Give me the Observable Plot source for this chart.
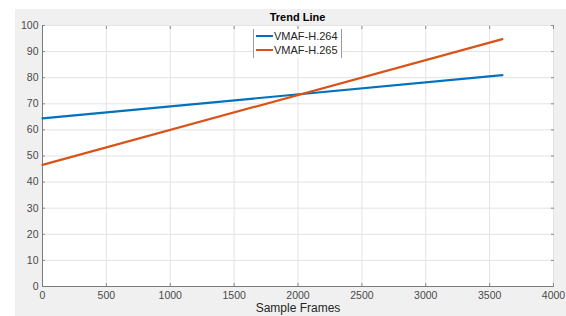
<!DOCTYPE html>
<html>
<head>
<meta charset="utf-8">
<script src="https://cdn.jsdelivr.net/npm/d3@7"></script>
<script src="https://cdn.jsdelivr.net/npm/@observablehq/plot@0.6"></script>
<style>
  html, body { margin: 0; padding: 0; background: #fff; }
  #wrap { position: relative; width: 566px; height: 316px; overflow: hidden; font-family: "Liberation Sans", Arial, sans-serif; }
  #bg { position: absolute; left: 15px; top: 9px; right: 0; bottom: 0; background: #f0f0f0; }
  #title { position: absolute; left: 42px; width: 511px; top: 9px; height: 16px; line-height: 16px; text-align: center; font-weight: bold; font-size: 11px; color: #000; }
  #chart { position: absolute; left: 0; top: 22px; }
  #legend { position: absolute; left: 253px; top: 29px; width: 87px; height: 29px; background: #fff; border-left: 1px solid #9a9a9a; border-right: 1px solid #9a9a9a; font-size: 11px; color: #262626; }
  .row { position: absolute; left: 2px; height: 13px; line-height: 13px; white-space: nowrap; }
  .sw { display: inline-block; width: 17px; height: 2px; vertical-align: middle; margin-right: 1px; position: relative; top: -1px; }
</style>
</head>
<body>
<div id="wrap">
  <div id="bg"></div>
  <div id="title"></div>
  <div id="chart"></div>
  <div id="legend"></div>
</div>
<script>
const titleText = "Trend Line";
const xLabel = "Sample Frames";
const frames = [0, 3600];
const h264 = [64.4, 81.0];
const h265 = [46.6, 94.8];
const seriesNames = ["VMAF-H.264", "VMAF-H.265"];
const seriesColors = ["#0072BD", "#D95319"];
const xTicks = [0, 500, 1000, 1500, 2000, 2500, 3000, 3500, 4000];
const yTicks = [0, 10, 20, 30, 40, 50, 60, 70, 80, 90, 100];

const rows = [];
frames.forEach((f, i) => {
  rows.push({series: seriesNames[0], frame: f, vmaf: h264[i]});
  rows.push({series: seriesNames[1], frame: f, vmaf: h265[i]});
});

document.getElementById("title").textContent = titleText;

const tickColor = "#8a8a8a";
const fmt = d3.format("d");
const chart = Plot.plot({
  width: 566,
  height: 294,
  marginLeft: 42,
  marginRight: 13,
  marginTop: 3,
  marginBottom: 30,
  style: {background: "transparent", fontFamily: "'Liberation Sans', Arial, sans-serif", fontSize: "10.5px", color: "#4a4a4a", overflow: "visible"},
  x: {domain: [0, 4000], label: null},
  y: {domain: [0, 100], label: null},
  color: {domain: seriesNames, range: seriesColors},
  marks: [
    Plot.frame({fill: "#fff", stroke: "none"}),
    Plot.gridX(xTicks, {stroke: "#e3e3e3", strokeOpacity: 1}),
    Plot.gridY(yTicks, {stroke: "#e3e3e3", strokeOpacity: 1}),
    Plot.axisX(xTicks, {anchor: "bottom", tickSize: 0, tickPadding: 5, tickFormat: fmt, fill: "#4a4a4a"}),
    Plot.axisY(yTicks, {anchor: "left", tickSize: 0, tickPadding: 4, tickFormat: fmt, fill: "#4a4a4a"}),
    Plot.axisX(xTicks, {anchor: "bottom", tickSize: -3, tickFormat: () => "", stroke: tickColor}),
    Plot.axisX(xTicks, {anchor: "top", tickSize: -3, tickFormat: () => "", stroke: tickColor}),
    Plot.axisY(yTicks, {anchor: "left", tickSize: -3, tickFormat: () => "", stroke: tickColor}),
    Plot.axisY(yTicks, {anchor: "right", tickSize: -3, tickFormat: () => "", stroke: tickColor}),
    Plot.ruleX([0], {stroke: "#7a7a7a"}),
    Plot.ruleY([0], {stroke: "#7a7a7a"}),
    Plot.line(rows, {x: "frame", y: "vmaf", stroke: "series", strokeWidth: 2.2}),
    Plot.text([xLabel], {frameAnchor: "bottom", dy: 25, fontSize: 12, fill: "#262626"})
  ]
});
document.getElementById("chart").appendChild(chart);

const legend = document.getElementById("legend");
seriesNames.forEach((name, i) => {
  const r = document.createElement("div");
  r.className = "row";
  r.style.top = (1 + i * 14) + "px";
  const sw = document.createElement("span");
  sw.className = "sw";
  sw.style.background = seriesColors[i];
  r.appendChild(sw);
  r.appendChild(document.createTextNode(name));
  legend.appendChild(r);
});
</script>
</body>
</html>
